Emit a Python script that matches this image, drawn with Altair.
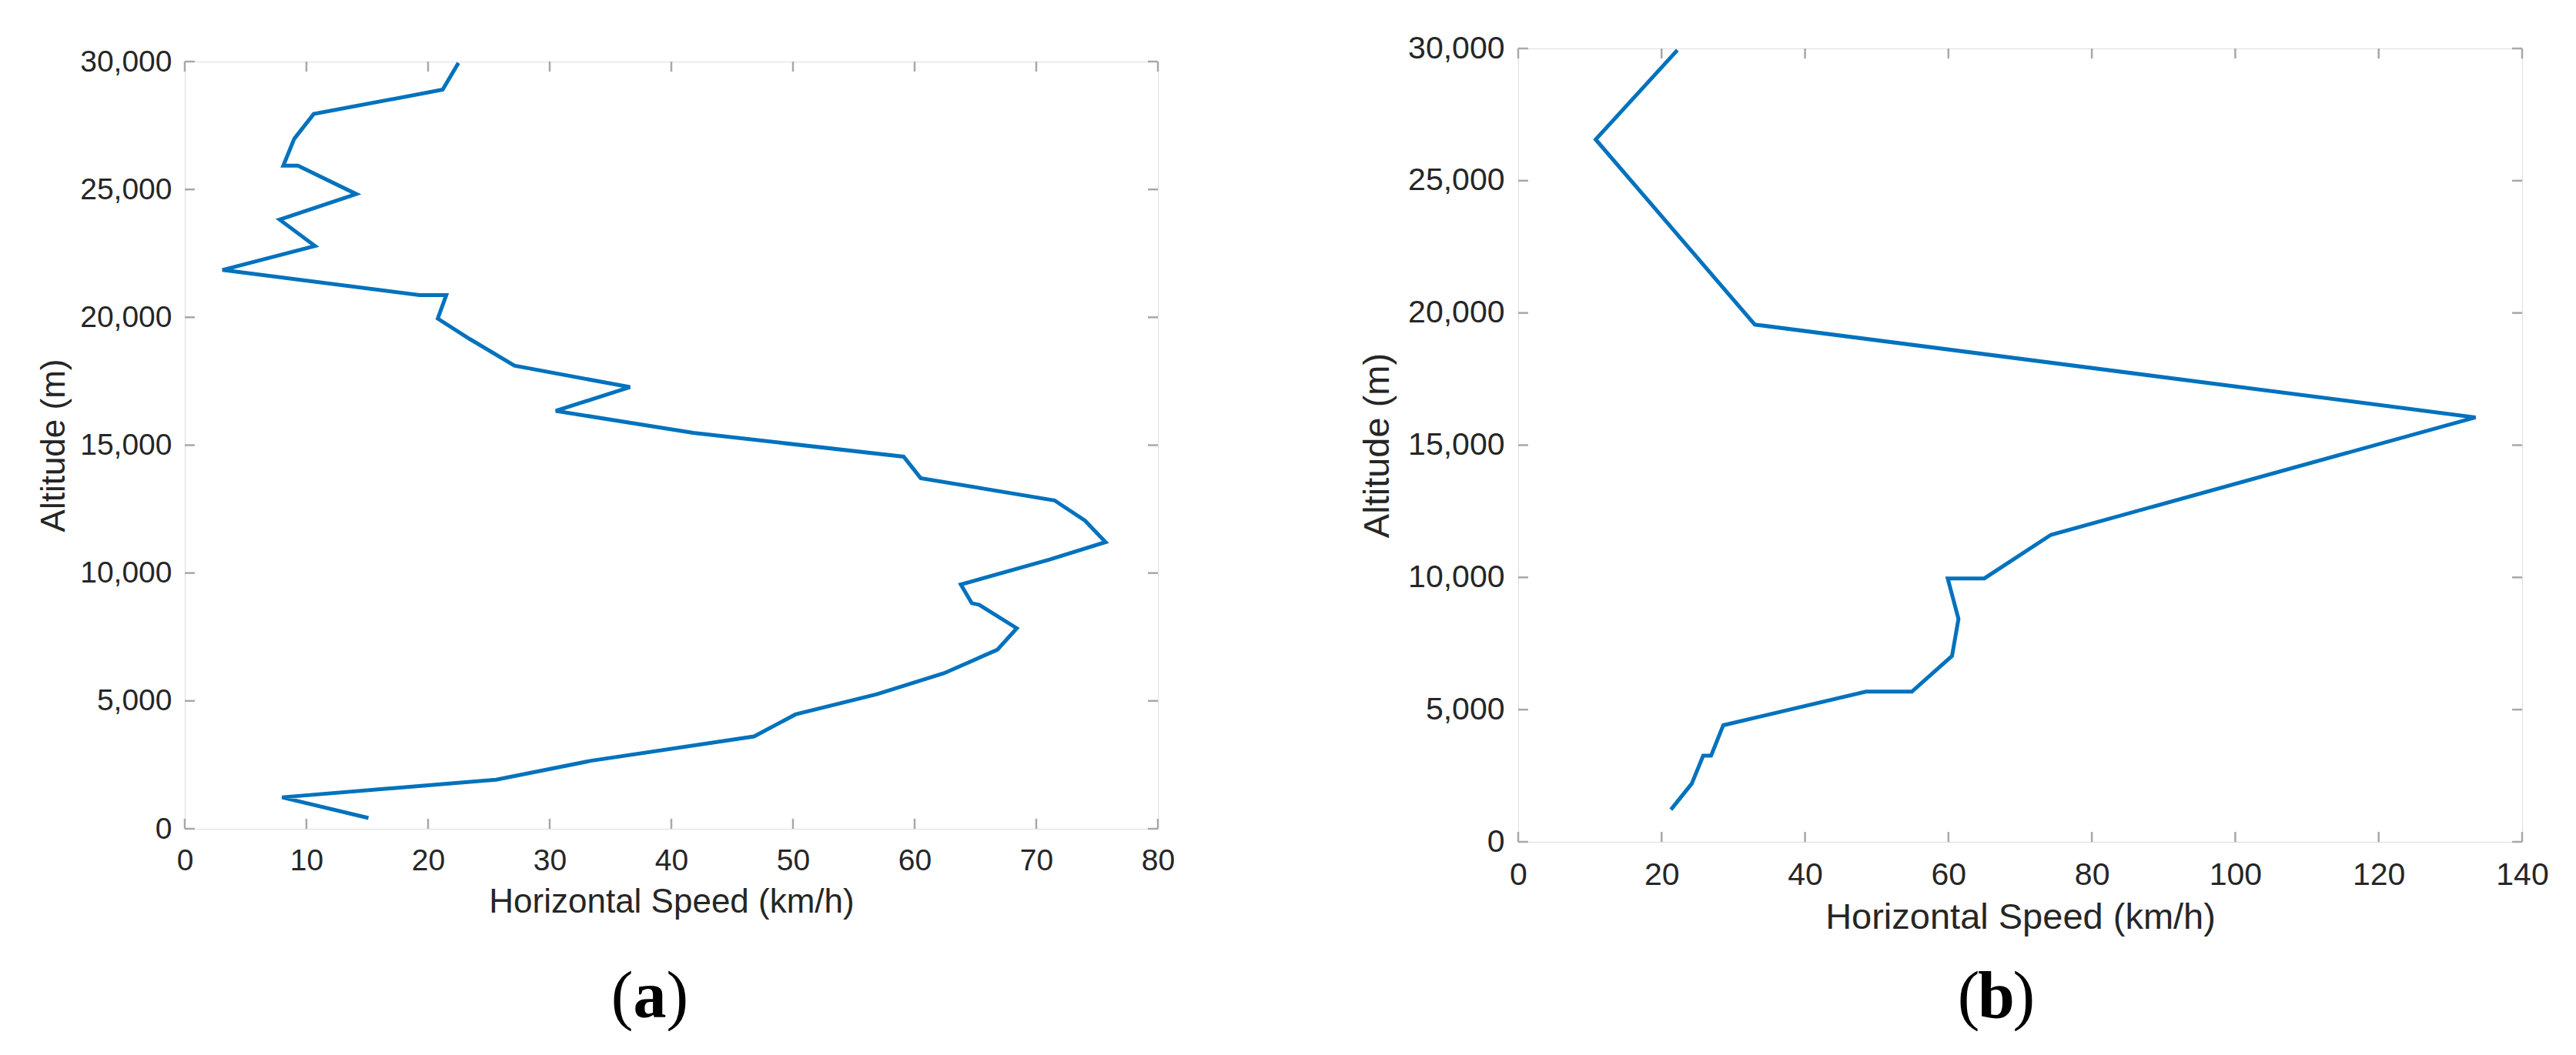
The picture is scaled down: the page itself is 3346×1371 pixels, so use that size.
import altair as alt
import pandas as pd

# ---- data ----
a_altitude = [420, 1230, 1920, 2660, 3610, 4470, 5260, 6080, 7000, 7840, 8760, 8820, 9550,
              10530, 11210, 12050, 12840, 13710, 14550, 15480, 16340, 17270, 18110, 19160,
              19950, 20870, 20870, 21850, 22790, 23820, 24820, 25930, 25930, 26980, 27950,
              28900, 29950]
a_speed = [15.1, 8.0, 25.6, 33.4, 46.8, 50.2, 56.9, 62.4, 66.8, 68.4, 65.3, 64.7, 63.8,
           71.1, 75.7, 74.0, 71.5, 60.5, 59.1, 41.8, 30.5, 36.6, 27.1, 23.4,
           20.8, 21.5, 19.3, 3.1, 10.7, 7.8, 14.1, 9.3, 8.1, 9.0, 10.6,
           21.2, 22.5]

b_altitude = [1220, 2200, 3260, 3260, 4410, 5680, 5680, 7030, 8430, 9960, 9960, 11610,
              16050, 19560, 26560, 29940]
b_speed = [21.3, 24.2, 25.8, 26.9, 28.6, 48.5, 54.9, 60.5, 61.4, 59.9, 65.0, 74.3,
           133.5, 33.0, 10.8, 22.2]

a_xticks = [0, 10, 20, 30, 40, 50, 60, 70, 80]
b_xticks = [0, 20, 40, 60, 80, 100, 120, 140]
y_ticks = [0, 5000, 10000, 15000, 20000, 25000, 30000]

x_title = "Horizontal Speed (km/h)"
y_title = "Altitude (m)"
panel_labels = ["a", "b"]

LINE = "#0072BD"
FRAME = "#a8a8a8"
TEXT = "#262626"
SANS = "Liberation Sans"
SERIF = "Liberation Serif"


def panel(speed, altitude, xticks, label, W, H, lab_fs, title_fs, xpad, ypad,
          title_y, title_x, lab_cx, lab_base, lab_fs_big):
    xmax = xticks[-1]
    df = pd.DataFrame({"speed": speed, "alt": altitude, "idx": range(len(speed))})
    xs = alt.Scale(domain=[0, xmax], nice=False, zero=False)
    ys = alt.Scale(domain=[0, 30000], nice=False, zero=False)

    xaxis = alt.Axis(values=xticks, labelFontSize=lab_fs, labelPadding=xpad, ticks=False,
                     domain=False, grid=False, labelFlush=False, labelOverlap=False,
                     labelColor=TEXT, labelFont=SANS, title=x_title, titleFont=SANS,
                     titleFontSize=title_fs, titleFontWeight="normal", titleColor=TEXT,
                     titleY=title_y, titleBaseline="alphabetic")
    yaxis = alt.Axis(values=y_ticks, format=",d", labelFontSize=lab_fs, labelPadding=ypad,
                     ticks=False, domain=False, grid=False, labelFlush=False,
                     labelOverlap=False, labelColor=TEXT, labelFont=SANS, title=y_title,
                     titleFont=SANS, titleFontSize=title_fs, titleFontWeight="normal",
                     titleColor=TEXT, titleX=title_x, titleY=H / 2, titleAngle=270,
                     titleBaseline="alphabetic", titleAlign="center")

    line = alt.Chart(df).mark_line(color=LINE, strokeWidth=5, strokeJoin="miter").encode(
        x=alt.X("speed:Q", scale=xs, axis=xaxis),
        y=alt.Y("alt:Q", scale=ys, axis=yaxis),
        order="idx:Q",
    )

    tl = 13
    xt = pd.DataFrame({"v": xticks})
    yt = pd.DataFrame({"v": y_ticks})
    tick_style = dict(color=FRAME, strokeWidth=2.5)
    bx = alt.Chart(xt).mark_rule(**tick_style).encode(
        x=alt.X("v:Q", scale=xs), y=alt.value(H), y2=alt.value(H - tl))
    tx = alt.Chart(xt).mark_rule(**tick_style).encode(
        x=alt.X("v:Q", scale=xs), y=alt.value(0), y2=alt.value(tl))
    ly = alt.Chart(yt).mark_rule(**tick_style).encode(
        y=alt.Y("v:Q", scale=ys), x=alt.value(0), x2=alt.value(tl))
    ry = alt.Chart(yt).mark_rule(**tick_style).encode(
        y=alt.Y("v:Q", scale=ys), x=alt.value(W), x2=alt.value(W - tl))

    ldf = pd.DataFrame({"lab": [label], "lp": ["("], "rp": [")"]})
    half = lab_fs_big * 0.25
    lab = alt.Chart(ldf).mark_text(font=SERIF, fontSize=lab_fs_big, fontWeight="bold",
                                   color="black", baseline="alphabetic", align="center").encode(
        x=alt.value(lab_cx), y=alt.value(lab_base), text="lab:N")
    lp = alt.Chart(ldf).mark_text(font=SERIF, fontSize=lab_fs_big, color="black",
                                  baseline="alphabetic", align="right").encode(
        x=alt.value(lab_cx - half), y=alt.value(lab_base), text="lp:N")
    rp = alt.Chart(ldf).mark_text(font=SERIF, fontSize=lab_fs_big, color="black",
                                  baseline="alphabetic", align="left").encode(
        x=alt.value(lab_cx + half), y=alt.value(lab_base), text="rp:N")

    return alt.layer(bx, tx, ly, ry, line, lp, lab, rp).properties(width=W, height=H)


pa = panel(a_speed, a_altitude, a_xticks, panel_labels[0], 1264, 997, 39, 44, 22, 17,
           108, -157, 604, 1242, 86)
pb = panel(b_speed, b_altitude, b_xticks, panel_labels[1], 1304, 1031, 41, 47, 23, 18,
           112, -169, 621, 1259, 86)

chart = alt.hconcat(pa, pb, spacing=468, bounds="flush", center=True).properties(
    padding={"left": 39, "top": 33, "right": 0, "bottom": 0}
).configure_view(stroke=FRAME, strokeWidth=3).configure(background="white")

chart.save("out.html", embed_options={"renderer": "svg", "actions": False})
